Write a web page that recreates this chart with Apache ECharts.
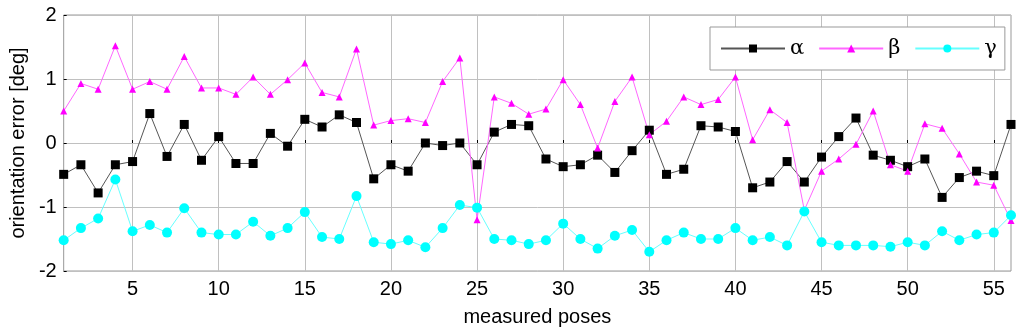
<!DOCTYPE html>
<html>
<head>
<meta charset="utf-8">
<script src="https://cdn.jsdelivr.net/npm/echarts@6/dist/echarts.min.js"></script>
<style>html,body{margin:0;padding:0;background:#fff;}#c{width:1024px;height:336px;}</style>
</head>
<body>
<div id="c"></div>
<script>
const poses = Array.from({length: 56}, (_, i) => i + 1);
const alpha = [-0.49,-0.34,-0.78,-0.34,-0.29,0.46,-0.21,0.29,-0.27,0.10,
  -0.32,-0.32,0.15,-0.05,0.37,0.25,0.44,0.32,-0.56,-0.34,
  -0.44,0.00,-0.04,0.00,-0.34,0.17,0.29,0.27,-0.25,-0.37,
  -0.34,-0.19,-0.46,-0.12,0.20,-0.49,-0.41,0.27,0.25,0.18,
  -0.70,-0.61,-0.29,-0.61,-0.22,0.10,0.39,-0.19,-0.27,-0.37,
  -0.25,-0.85,-0.54,-0.44,-0.51,0.29];
const beta = [0.50,0.93,0.84,1.52,0.84,0.96,0.84,1.35,0.86,0.86,
  0.76,1.03,0.76,0.99,1.25,0.79,0.72,1.47,0.28,0.35,
  0.38,0.32,0.96,1.33,-1.20,0.72,0.62,0.45,0.53,0.99,
  0.60,-0.08,0.65,1.03,0.13,0.34,0.72,0.60,0.68,1.03,
  0.05,0.52,0.32,-1.05,-0.44,-0.25,-0.02,0.50,-0.34,-0.44,
  0.30,0.23,-0.17,-0.61,-0.66,-1.21];
const gamma = [-1.52,-1.33,-1.18,-0.57,-1.38,-1.28,-1.40,-1.02,-1.40,-1.43,
  -1.43,-1.23,-1.45,-1.33,-1.08,-1.47,-1.50,-0.83,-1.55,-1.58,
  -1.52,-1.63,-1.33,-0.97,-1.01,-1.50,-1.52,-1.58,-1.52,-1.26,
  -1.50,-1.65,-1.45,-1.36,-1.70,-1.52,-1.40,-1.50,-1.50,-1.33,
  -1.52,-1.47,-1.60,-1.07,-1.55,-1.60,-1.60,-1.60,-1.62,-1.55,
  -1.60,-1.38,-1.52,-1.43,-1.40,-1.13];
const xTicks = [5,10,15,20,25,30,35,40,45,50,55];
const yTicks = [-2,-1,0,1,2];
const seriesNames = ['\u03b1', '\u03b2', '\u03b3'];
const xTitle = 'measured poses';
const yTitle = 'orientation error [deg]';

const pair = arr => arr.map((v, i) => [poses[i], v]);
const font = 'Liberation Sans, Arial, sans-serif';

const chart = echarts.init(document.getElementById('c'), null, {renderer: 'canvas'});
chart.setOption({
  animation: false,
  backgroundColor: '#fff',
  grid: {left: 63, right: 13, top: 15, bottom: 65, show: true, borderColor: '#999', borderWidth: 1, containLabel: false},
  legend: {
    left: 710, top: 27,
    padding: [11, 8, 11, 10],
    itemWidth: 64, itemHeight: 10, itemGap: 14,
    backgroundColor: '#fff', borderColor: '#999', borderWidth: 1,
    textStyle: {fontFamily: 'DejaVu Serif, Liberation Serif, serif', fontSize: 21, color: '#000', padding: [0, 0, 0, 0]},
    data: seriesNames
  },
  xAxis: {
    type: 'value', min: 1, max: 56,
    name: xTitle, nameLocation: 'middle', nameGap: 36,
    nameTextStyle: {fontFamily: font, fontSize: 20, color: '#000'},
    axisLine: {show: false},
    axisTick: {show: true, inside: true, length: 3, lineStyle: {color: '#000'}, customValues: xTicks},
    axisLabel: {customValues: xTicks, fontFamily: font, fontSize: 20, color: '#000', margin: 8},
    splitLine: {show: true, lineStyle: {color: '#c0c0c0', width: 1}}
  },
  yAxis: {
    type: 'value', min: -2, max: 2, interval: 1,
    name: yTitle, nameLocation: 'middle', nameGap: 31,
    nameTextStyle: {fontFamily: font, fontSize: 20, color: '#000'},
    axisLine: {show: false},
    axisTick: {show: true, inside: true, length: 3, lineStyle: {color: '#000'}},
    axisLabel: {fontFamily: font, fontSize: 20, color: '#000', margin: 7},
    splitLine: {show: true, lineStyle: {color: '#c0c0c0', width: 1}}
  },
  series: [
    {name: seriesNames[0], type: 'line', data: pair(alpha), symbol: 'rect', symbolSize: 9,
     itemStyle: {color: '#000'}, lineStyle: {color: '#555', width: 1}},
    {name: seriesNames[1], type: 'line', data: pair(beta), symbol: 'triangle', symbolSize: 7,
     itemStyle: {color: '#ff00ff'}, lineStyle: {color: '#ff66ff', width: 1}},
    {name: seriesNames[2], type: 'line', data: pair(gamma), symbol: 'circle', symbolSize: 10,
     itemStyle: {color: '#00ffff'}, lineStyle: {color: '#66ffff', width: 1}}
  ]
});
</script>
</body>
</html>
